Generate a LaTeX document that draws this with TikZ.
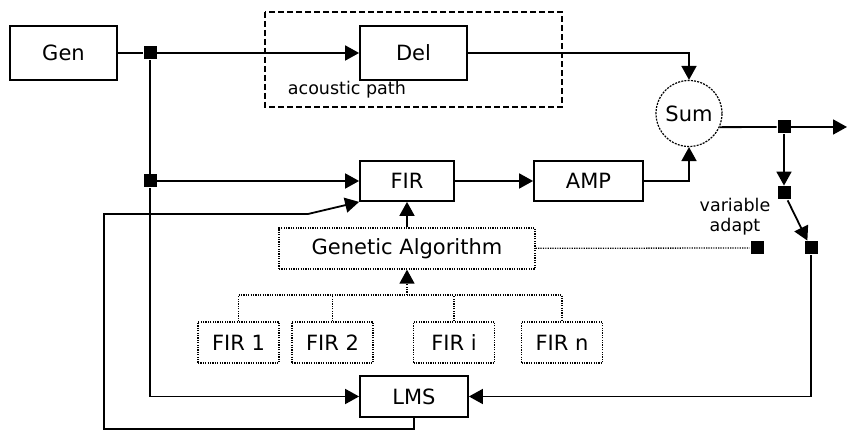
\documentclass[tikz,border=0pt]{standalone}
\usepackage{fontspec}
\setmainfont{DejaVu Sans}
\usepackage{tikz}
\usetikzlibrary{arrows.meta, shapes}

\tikzset{
	blok/.style={draw, -, line width=0.9pt, inner sep=0pt, font=\fontsize{10.5}{12}\selectfont},
	gblok/.style={draw, -, line width=0.65pt, dash pattern=on 0.6pt off 0.6pt, inner sep=0pt, font=\fontsize{10.5}{12}\selectfont},
	knot/.style={fill, -, minimum size=6.5pt, inner sep=0pt},
	dots/.style={-, line width=0.65pt, dash pattern=on 0.6pt off 0.6pt},
	small/.style={font=\fontsize{8.75}{10}\selectfont, inner sep=0pt}
}

\begin{document}
\begin{tikzpicture}[x=0.5pt, y=-0.5pt, ->, >={Triangle[length=7pt, width=7.5pt]}, line width=0.9pt]
		\useasboundingbox (0, 0) rectangle (847, 431);
		% acoustic path
		\draw[-, line width=0.8pt, dash pattern=on 3pt off 1.5pt] (265, 12) rectangle (562, 107);
		\node[small, anchor=west] (acl) at (287, 90) {acoustic path};
		
		\node[blok, minimum width=53.5pt, minimum height=27pt] (gen) at (63.5, 53) {Gen};
		\node[blok, minimum width=53.5pt, minimum height=27pt] (del) at (413.5, 53) {Del};
		\node[blok, circle, minimum size=33pt, line width=0.6pt, dash pattern=on 1pt off 0.6pt] (sum) at (689, 113.5) {Sum};
		\node[blok, minimum width=47pt, minimum height=20pt] (fir) at (407, 181) {FIR};
		\node[blok, minimum width=54.5pt, minimum height=20pt] (amp) at (588.5, 181) {AMP};
		\node[blok, minimum width=54pt, minimum height=20.5pt] (lms) at (414, 396.5) {LMS};
		\node[gblok, minimum width=128pt, minimum height=20.5pt] (ga) at (407, 248.5) {Genetic Algorithm};
		
		\node[gblok, minimum width=40.5pt, minimum height=20.5pt] (fir1) at (238.5, 342.5) {FIR 1};
		\node[gblok, minimum width=40.5pt, minimum height=20.5pt] (fir2) at (332.5, 342.5) {FIR 2};
		\node[gblok, minimum width=40.5pt, minimum height=20.5pt] (firi) at (454, 342.5) {FIR i};
		\node[gblok, minimum width=40.5pt, minimum height=20.5pt] (firn) at (562, 342.5) {FIR n};
		
		\node[knot] (j1) at (150, 53) {};
		\node[knot] (j2) at (150, 181) {};
		\node[knot] (j3) at (784, 127) {};
		\node[knot] (j4) at (784, 193) {};
		\node[knot] (sw) at (811, 248) {};
		\node[knot] (va) at (757, 248) {};
		\node[small, align=center] (val) at (735, 217) {variable\\adapt};
		
		\coordinate (out) at (847, 127);
		\coordinate (tree) at (407, 295);
		\coordinate (fbbot) at (104, 429);
		\coordinate (fbtop) at (308, 214);
		
		\draw[-] (gen) -- (j1);
		\draw[-] (j1) -- (j2);
		\draw[-] (sum.-24) -- (j3);
		\path (j1) edge (del)
			(j2) edge (fir)
			(fir) edge (amp)
			(j3) edge (out)
			(j3) edge (j4)
			(j4) edge (sw)
			(ga) edge (fir);
		\draw (del) -| (sum);
		\draw (amp) -| (sum);
		\draw (j2) |- (lms);
		\draw (sw) |- (lms);
		\draw (lms.south) |- (fbbot) |- (fbtop) -- (fir.south west);
		
		% GA tree
		\draw[dots] (ga) -- (va);
		\draw[dots] (fir1.north) |- (tree) -| (firn.north);
		\draw[dots] (fir2.north) -- (fir2.north |- tree);
		\draw[dots] (firi.north) -- (firi.north |- tree);
		\draw[dots, ->] (tree) -- (ga.south);
	\end{tikzpicture}
\end{document}
